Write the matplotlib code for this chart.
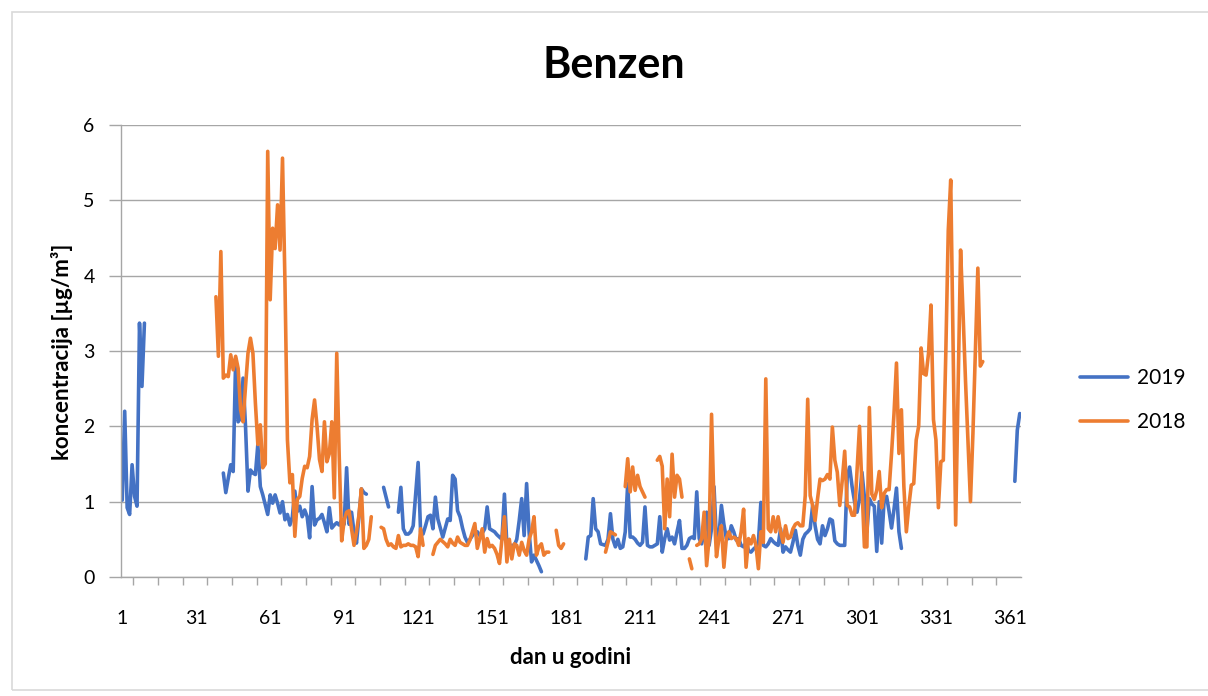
import numpy as np
import matplotlib
matplotlib.use("Agg")
import matplotlib.pyplot as plt
from matplotlib.patches import Rectangle

N = np.nan

# daily benzene concentration, index 0 = day 1 ... index 364 = day 365
benzen_2019 = np.array([
    1.02, 2.2, 0.92, 0.83, 1.49, 1.07, 0.94, 3.37, 2.53, 3.37,
    N, N, N, N, N, N, N, N, N, N,
    N, N, N, N, N, N, N, N, N, N,
    N, N, N, N, N, N, N, N, N, N,
    N, 1.38, 1.12, 1.31, 1.49, 1.4, 2.9, 2.06, 2.11, 2.64,
    2.0, 1.14, 1.42, 1.38, 1.36, 1.76, 1.2, 1.09, 0.96, 0.83,
    1.09, 0.98, 1.09, 0.98, 0.85, 1.0, 0.76, 0.83, 0.69, 0.8,
    1.14, 0.87, 0.94, 0.8, 0.89, 0.8, 0.52, 1.2, 0.69, 0.76,
    0.78, 0.83, 0.72, 0.6, 0.92, 0.65, 0.69, 0.72, 0.69, 0.76,
    0.7, 1.45, 0.7, 0.86, 0.6, 0.45, 0.8, 1.17, 1.12, 1.1,
    N, N, N, N, N, N, 1.19, 1.06, 0.93, N,
    N, N, 0.86, 1.19, 0.64, 0.57, 0.57, 0.6, 0.68, 1.1,
    1.52, 0.6, 0.57, 0.68, 0.8, 0.82, 0.64, 1.06, 0.77, 0.65,
    0.53, 0.65, 0.77, 0.75, 1.35, 1.3, 0.88, 0.8, 0.65, 0.53,
    0.46, 0.5, 0.55, 0.6, 0.6, 0.55, 0.58, 0.64, 0.93, 0.64,
    0.62, 0.6, 0.56, 0.53, 0.5, 1.1, 0.42, 0.4, 0.42, 0.42,
    0.5, 0.75, 1.04, 0.55, 1.24, 0.6, 0.2, 0.29, 0.22, 0.15,
    0.07, N, N, N, N, N, N, N, N, N,
    N, N, N, N, N, N, N, N, 0.24, 0.53,
    0.55, 1.04, 0.64, 0.6, 0.44, 0.43, 0.42, 0.5, 0.84, 0.5,
    0.4, 0.5, 0.38, 0.4, 0.6, 1.24, 0.53, 0.53, 0.5, 0.45,
    0.42, 0.46, 0.93, 0.42, 0.4, 0.4, 0.42, 0.44, 0.8, 0.33,
    0.51, 0.64, 0.49, 0.53, 0.44, 0.6, 0.75, 0.38, 0.38, 0.42,
    0.51, 0.53, 0.51, 1.13, 0.51, 0.44, 0.6, 0.86, 0.42, 0.64,
    1.2, 0.46, 0.55, 0.95, 0.7, 0.51, 0.51, 0.68, 0.6, 0.49,
    0.51, 0.42, 0.4, 0.46, 0.35, 0.33, 0.37, 0.4, 0.46, 0.99,
    0.42, 0.4, 0.44, 0.51, 0.47, 0.44, 0.42, 0.64, 0.33, 0.4,
    0.36, 0.33, 0.46, 0.62, 0.42, 0.29, 0.5, 0.57, 0.6, 0.64,
    0.95, 0.68, 0.5, 0.44, 0.68, 0.55, 0.64, 0.77, 0.75, 0.48,
    0.44, 0.42, 0.42, 0.42, 1.32, 1.46, 1.2, 1.0, 0.86, 1.04,
    1.39, 1.06, 0.6, 1.04, 0.97, 0.94, 0.34, 1.0, 0.45, 1.03,
    1.07, 0.87, 0.65, 0.9, 1.18, 0.6, 0.38, N, N, N,
    N, N, N, N, N, N, N, N, N, N,
    N, N, N, N, N, N, N, N, N, N,
    N, N, N, N, N, N, N, N, N, N,
    N, N, N, N, N, N, N, N, N, N,
    N, N, 1.27, 1.95, 2.17,
])

benzen_2018 = np.array([
    N, N, N, N, N, N, N, N, N, N,
    N, N, N, N, N, N, N, N, N, N,
    N, N, N, N, N, N, N, N, N, N,
    N, N, N, N, N, N, N, N, 3.72, 2.93,
    4.32, 2.64, 2.68, 2.66, 2.95, 2.75, 2.93, 2.77, 2.22, 2.06,
    2.53, 2.97, 3.17, 2.97, 2.31, 1.76, 2.02, 1.45, 1.5, 5.65,
    3.68, 4.63, 4.36, 4.94, 4.34, 5.56, 3.9, 1.82, 1.25, 1.36,
    0.54, 1.03, 1.07, 1.31, 1.47, 1.45, 1.6, 2.09, 2.35, 2.0,
    1.56, 1.4, 2.06, 1.53, 1.64, 2.06, 1.05, 2.97, 1.6, 0.48,
    0.75, 0.86, 0.88, 0.64, 0.42, 0.6, 0.82, 1.17, 0.38, 0.42,
    0.5, 0.8, N, N, N, 0.66, 0.64, 0.5, 0.42, 0.44,
    0.4, 0.38, 0.55, 0.4, 0.42, 0.42, 0.44, 0.42, 0.42, 0.4,
    0.27, 0.64, 0.42, N, N, N, 0.3, 0.42, 0.46, 0.5,
    0.47, 0.44, 0.4, 0.5, 0.45, 0.42, 0.53, 0.46, 0.44, 0.42,
    0.42, 0.49, 0.6, 0.71, 0.38, 0.51, 0.64, 0.33, 0.51, 0.4,
    0.42, 0.38, 0.3, 0.18, 0.5, 0.8, 0.2, 0.5, 0.24, 0.44,
    0.42, 0.29, 0.46, 0.35, 0.29, 0.5, 0.6, 0.8, 0.29, 0.4,
    0.44, 0.29, 0.33, 0.33, N, N, 0.62, 0.42, 0.38, 0.44,
    N, N, N, N, N, N, N, N, N, N,
    N, N, N, N, N, N, 0.33, 0.46, 0.6, 0.58,
    0.56, N, N, N, 1.2, 1.57, 1.13, 1.46, 1.15, 1.35,
    1.2, 1.13, 1.06, N, N, N, N, 1.55, 1.6, 1.47,
    0.64, 1.3, 0.8, 1.63, 1.06, 1.35, 1.3, 1.06, N, N,
    0.24, 0.11, N, 0.42, 0.44, 0.51, 0.86, 0.15, 0.51, 2.16,
    0.95, 0.27, 0.51, 0.68, 0.13, 0.51, 0.6, 0.51, 0.53, 0.51,
    0.42, 0.6, 0.9, 0.13, 0.51, 0.44, 0.55, 0.42, 0.11, 0.6,
    0.46, 2.63, 0.64, 0.6, 0.8, 0.6, 0.8, 0.6, 0.46, 0.68,
    0.51, 0.53, 0.64, 0.7, 0.72, 0.68, 0.68, 1.08, 2.36, 1.08,
    0.95, 0.75, 1.04, 1.3, 1.28, 1.3, 1.36, 1.3, 1.99, 1.55,
    1.39, 0.95, 1.28, 1.67, 0.95, 0.93, 0.82, 0.82, 1.4, 2.0,
    1.2, 0.4, 0.4, 2.25, 1.1, 1.03, 1.15, 1.4, 0.92, 1.11,
    1.16, 1.16, 1.64, 2.17, 2.84, 1.64, 2.22, 1.2, 0.6, 0.94,
    1.22, 1.24, 1.82, 2.0, 3.04, 2.7, 2.68, 2.97, 3.61, 2.09,
    1.82, 0.92, 1.53, 1.55, 2.97, 4.6, 5.27, 3.0, 0.69, 2.5,
    4.34, 3.5, 2.6, 1.8, 1.0, 1.9, 3.0, 4.1, 2.8, 2.86,
    N, N, N, N, N, N, N, N, N, N,
    N, N, N, N, N,
])

days = np.arange(1, len(benzen_2019) + 1)
x_labels = [1, 31, 61, 91, 121, 151, 181, 211, 241, 271, 301, 331, 361]
y_ticks = [0, 1, 2, 3, 4, 5, 6]

plt.rcParams['font.family'] = ['Lato', 'DejaVu Sans']

W, H = 1208, 696
GRID = '#A6A6A6'

fig = plt.figure(figsize=(W / 100, H / 100), dpi=100)
fig.patches.append(Rectangle((12 / W, 6 / H), 1.2, (H - 18) / H,
                             transform=fig.transFigure, fill=False,
                             edgecolor='#D9D9D9', lw=1.2))

ax = fig.add_axes([121 / W, 119 / H, 900 / W, 452 / H])
ax.plot(days, benzen_2019, color='#4472C4', lw=2.6, label='2019',
        solid_joinstyle='round', solid_capstyle='round')
ax.plot(days, benzen_2018, color='#ED7D31', lw=2.6, label='2018',
        solid_joinstyle='round', solid_capstyle='round')

ax.set_xlim(0.5, 365.5)
ax.set_ylim(0, 6)
ax.set_yticks(y_ticks)
ax.set_xticks(x_labels)
ax.set_xticks(np.arange(5.5, 360, 10), minor=True)
ax.tick_params(axis='x', which='major', length=0, pad=24, labelsize=14)
ax.tick_params(axis='x', which='minor', length=6, color=GRID, width=1)
ax.tick_params(axis='y', length=9, color=GRID, width=1, pad=10, labelsize=14)

ax.grid(axis='y', color=GRID, lw=1)
ax.set_axisbelow(True)
for side in ['top', 'right']:
    ax.spines[side].set_visible(False)
for side in ['left', 'bottom']:
    ax.spines[side].set_color(GRID)
    ax.spines[side].set_linewidth(1)

fig.text(614 / W, 1 - 65 / H, 'Benzen', ha='center', va='center',
         fontsize=31, fontweight='bold')
fig.text(571 / W, 1 - 657 / H, 'dan u godini', ha='center', va='center',
         fontsize=16, fontweight='bold')
fig.text(62 / W, 1 - 352 / H, 'koncentracija [µg/m³]', ha='center', va='center',
         rotation=90, fontsize=16, fontweight='bold')

ax.legend(loc='center left', bbox_to_anchor=(1080 / W, 1 - 400 / H),
          bbox_transform=fig.transFigure, frameon=False, fontsize=15,
          handlelength=2.3, handletextpad=0.45, labelspacing=1.15,
          borderpad=0, borderaxespad=0)

fig.savefig('out.png', dpi=100)
